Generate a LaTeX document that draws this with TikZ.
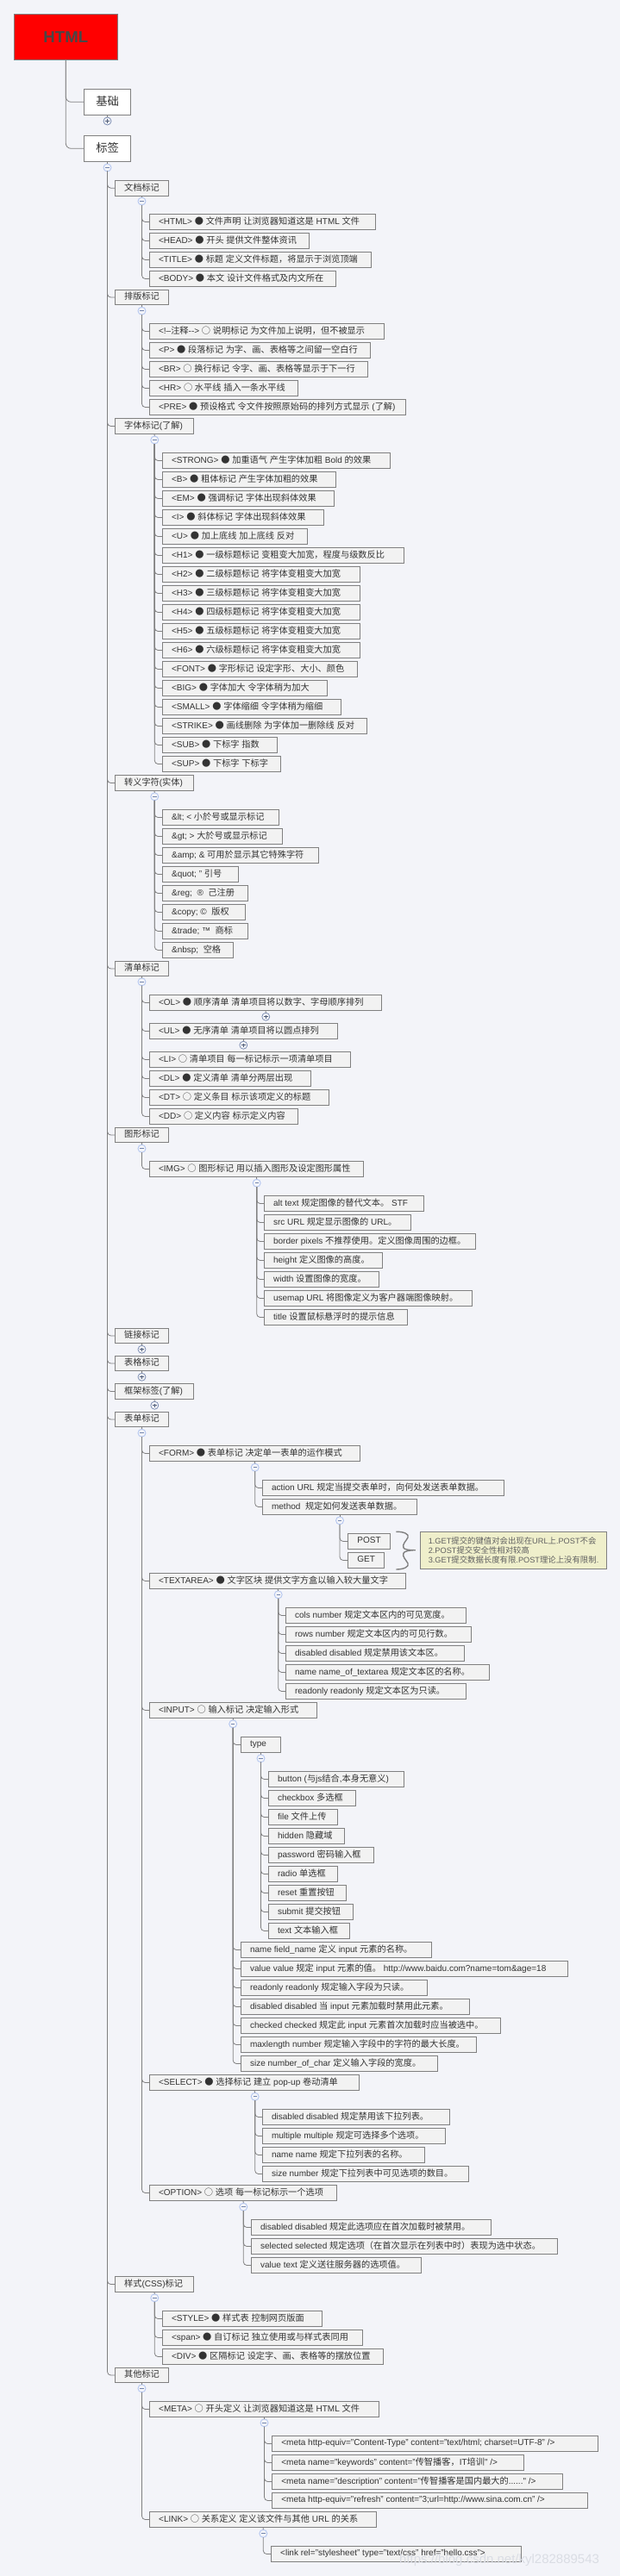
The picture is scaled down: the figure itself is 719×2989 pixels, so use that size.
\documentclass[tikz,border=0pt]{standalone}
\usepackage{fontspec}
\setmainfont{Liberation Sans}
\newfontfamily\latf{Liberation Sans}
\newfontfamily\cjkf[Scale=1.02]{Noto Sans CJK SC}
\newXeTeXintercharclass\CJKcl
\newcount\cc
\cc="3000 \loop \XeTeXcharclass\cc=\CJKcl \advance\cc by 1 \ifnum\cc<"A000 \repeat
\cc="FF00 \loop \XeTeXcharclass\cc=\CJKcl \advance\cc by 1 \ifnum\cc<"FFF0 \repeat
\XeTeXcharclass"25CF=\CJKcl
\XeTeXcharclass"25CB=\CJKcl
\XeTeXinterchartoks 0 \CJKcl={\cjkf}
\XeTeXinterchartoks \CJKcl 0={\latf}
\XeTeXinterchartoks 4095 \CJKcl={\cjkf}
\XeTeXinterchartoks \CJKcl 4095={\latf}
\XeTeXinterchartokenstate=1
\definecolor{bgc}{HTML}{F3F4F9}
\definecolor{edgec}{HTML}{808080}
\definecolor{itemc}{HTML}{F2F2F2}
\definecolor{textc}{HTML}{333333}
\definecolor{togm}{HTML}{B4C6F0}
\definecolor{togp}{HTML}{7486AD}
\definecolor{notec}{HTML}{EFEFCB}
\definecolor{wmc}{HTML}{DADDE4}
\tikzset{
  itembox/.style={draw=edgec,fill=itemc,line width=0.8pt,inner sep=0pt,outer sep=0pt,anchor=north west,
    minimum height=18.4pt,text=textc,font=\fontsize{10}{12}\selectfont},
  short/.style={minimum height=17.4pt},
  conn/.style={draw=edgec,line width=0.8pt,rounded corners=4pt},
  toggleM/.style={circle,draw=togm,fill=bgc,line width=0.9pt,minimum size=9pt,inner sep=0pt,outer sep=0pt,
    path picture={\draw[togp,line width=0.7pt] ([xshift=-2.2pt]path picture bounding box.center) -- ([xshift=2.2pt]path picture bounding box.center);}},
  toggleP/.style={circle,draw=togp,fill=bgc,line width=0.7pt,minimum size=9pt,inner sep=0pt,outer sep=0pt,
    path picture={\draw[togp!70!black,line width=0.7pt] ([xshift=-2.2pt]path picture bounding box.center) -- ([xshift=2.2pt]path picture bounding box.center)
      ([yshift=-2.2pt]path picture bounding box.center) -- ([yshift=2.2pt]path picture bounding box.center);}},
}
% item box: [style]{name}{x1}{y1}{x2}{text}
\newcommand\It[6][]{%
  \pgfmathsetmacro\itW{#5-#3}%
  \node[itembox,minimum width=\itW pt,#1] (#2) at (#3,-#4)
    {\hbox to \itW pt{\hskip10.8pt\rule[-3pt]{0pt}{9.8pt}#6\hss}};}
% toggle: {name}{parent}{x}{y}{style}
\newcommand\Tg[5]{%
  \node[#5] (#1) at (#3,-#4) {};
  \draw[conn] (#2.south) -- (#1.north);}
% connectors from a toggle to its children
\newcommand\Cn[2]{\foreach \chld in {#2} {\draw[conn] (#1.south) |- (\chld.west);}}
\begin{document}
\begin{tikzpicture}[x=1pt,y=1pt]
\useasboundingbox (0,0) rectangle (719,-2989);
\fill[bgc] (0,0) rectangle (719,-2989);
% root and first level
\node[draw=edgec,fill=red,line width=0.9pt,minimum width=120pt,minimum height=53.4pt,inner sep=0pt,outer sep=0pt,anchor=north west,text=black!72,font=\fontsize{18.6}{20}\selectfont\bfseries] (root) at (16.3,-16.3) {HTML};
\It[fill=white,minimum height=30pt,font=\fontsize{13}{15}\selectfont]{jc}{97.3}{103.3}{151.7}{\hskip3.2pt 基础}
\It[fill=white,minimum height=30pt,font=\fontsize{13}{15}\selectfont]{bq}{97.3}{157.3}{151.7}{\hskip3.2pt 标签}
\draw[conn,rounded corners=6pt] (root.south) |- (jc.west);
\draw[conn,rounded corners=6pt] (root.south) |- (bq.west);
\Tg{tjc}{jc}{124.5}{140.5}{toggleP}
\Tg{tbq}{bq}{124.5}{194.5}{toggleM}
% second level
\It[short]{wd}{133.3}{209.5}{195.7}{文档标记}
\It[short]{pb}{133.3}{336.3}{195.7}{排版标记}
\It{zt}{133.3}{485.3}{224.7}{字体标记(了解)}
\It{zy}{133.3}{899.3}{224.7}{转义字符(实体)}
\It[short]{qd}{133.3}{1115.3}{195.7}{清单标记}
\It[short]{tx}{133.3}{1308.3}{195.7}{图形标记}
\It[short]{lj}{133.3}{1541.3}{195.7}{链接标记}
\It[short]{bg}{133.3}{1573.3}{195.7}{表格标记}
\It{kj}{133.3}{1605.3}{224.7}{框架标签(了解)}
\It[short]{bd}{133.3}{1638.3}{195.7}{表单标记}
\It{ys}{133.3}{2641.3}{224.7}{样式(CSS)标记}
\It[short]{qt}{133.3}{2747.3}{195.7}{其他标记}
\Cn{tbq}{wd,pb,zt,zy,qd,tx,lj,bg,kj,bd,ys,qt}
% document
\Tg{twd}{wd}{164.5}{233.5}{toggleM}
\It{w1}{173.3}{248.3}{435.7}{<HTML> ● 文件声明 让浏览器知道这是 HTML 文件}
\It{w2}{173.3}{270.3}{358.3}{<HEAD> ● 开头 提供文件整体资讯}
\It{w3}{173.3}{292.3}{430.7}{<TITLE> ● 标题 定义文件标题，将显示于浏览顶端}
\It{w4}{173.3}{314.3}{389.7}{<BODY> ● 本文 设计文件格式及内文所在}
\Cn{twd}{w1,w2,w3,w4}
% layout
\Tg{tpb}{pb}{164.5}{360.7}{toggleM}
\It{p1}{173.3}{375.3}{445.7}{<!--注释--> ○ 说明标记 为文件加上说明，但不被显示}
\It{p2}{173.3}{397.3}{429.7}{<P> ● 段落标记 为字、画、表格等之间留一空白行}
\It{p3}{173.3}{419.3}{426.7}{<BR> ○ 换行标记 令字、画、表格等显示于下一行}
\It{p4}{173.3}{441.3}{345.7}{<HR> ○ 水平线 插入一条水平线}
\It{p5}{173.3}{463.3}{470.7}{<PRE> ● 预设格式 令文件按照原始码的排列方式显示 (了解)}
\Cn{tpb}{p1,p2,p3,p4,p5}
% font
\Tg{tzt}{zt}{179.3}{510.5}{toggleM}
\It{f1}{188.3}{525.3}{452.7}{<STRONG> ● 加重语气 产生字体加粗 Bold 的效果}
\It{f2}{188.3}{547.3}{389.7}{<B> ● 粗体标记 产生字体加粗的效果}
\It{f3}{188.3}{569.3}{387.7}{<EM> ● 强调标记 字体出现斜体效果}
\It{f4}{188.3}{591.3}{375.7}{<I> ● 斜体标记 字体出现斜体效果}
\It{f5}{188.3}{613.3}{356.7}{<U> ● 加上底线 加上底线 反对}
\It{f6}{188.3}{635.3}{468.7}{<H1> ● 一级标题标记 变粗变大加宽，程度与级数反比}
\It{f7}{188.3}{657.3}{417.7}{<H2> ● 二级标题标记 将字体变粗变大加宽}
\It{f8}{188.3}{679.3}{417.7}{<H3> ● 三级标题标记 将字体变粗变大加宽}
\It{f9}{188.3}{701.3}{417.7}{<H4> ● 四级标题标记 将字体变粗变大加宽}
\It{f10}{188.3}{723.3}{417.7}{<H5> ● 五级标题标记 将字体变粗变大加宽}
\It{f11}{188.3}{745.3}{417.7}{<H6> ● 六级标题标记 将字体变粗变大加宽}
\It{f12}{188.3}{767.3}{414.7}{<FONT> ● 字形标记 设定字形、大小、颜色}
\It{f13}{188.3}{789.3}{379.7}{<BIG> ● 字体加大 令字体稍为加大}
\It{f14}{188.3}{811.3}{395.7}{<SMALL> ● 字体缩细 令字体稍为缩细}
\It{f15}{188.3}{833.3}{425.7}{<STRIKE> ● 画线删除 为字体加一删除线 反对}
\It{f16}{188.3}{855.3}{321.7}{<SUB> ● 下标字 指数}
\It{f17}{188.3}{877.3}{325.7}{<SUP> ● 下标字 下标字}
\Cn{tzt}{f1,f2,f3,f4,f5,f6,f7,f8,f9,f10,f11,f12,f13,f14,f15,f16,f17}
% entities
\Tg{tzy}{zy}{179.3}{924.3}{toggleM}
\It{e1}{188.3}{939.3}{323.7}{\&lt; < 小於号或显示标记}
\It{e2}{188.3}{961.3}{327.7}{\&gt; > 大於号或显示标记}
\It{e3}{188.3}{983.3}{369.7}{\&amp; \& 可用於显示其它特殊字符}
\It{e4}{188.3}{1005.3}{276.7}{\&quot; " 引号}
\It{e5}{188.3}{1027.3}{287.7}{\&reg;\ \ ® \ 己注册}
\It{e6}{188.3}{1049.3}{284.7}{\&copy; © \ 版权}
\It{e7}{188.3}{1071.3}{287.7}{\&trade; ™ \ 商标}
\It{e8}{188.3}{1093.3}{270.7}{\&nbsp;\ \ 空格}
\Cn{tzy}{e1,e2,e3,e4,e5,e6,e7,e8}
% lists
\Tg{tqd}{qd}{164.5}{1139.3}{toggleM}
\It{l1}{173.3}{1154.3}{442.7}{<OL> ● 顺序清单 清单项目将以数字、字母顺序排列}
\Tg{tl1}{l1}{308.3}{1179.7}{toggleP}
\It{l2}{173.3}{1187.3}{391.7}{<UL> ● 无序清单 清单项目将以圆点排列}
\Tg{tl2}{l2}{282.3}{1212.7}{toggleP}
\It{l3}{173.3}{1220.3}{406.7}{<LI> ○ 清单项目 每一标记标示一项清单项目}
\It{l4}{173.3}{1242.3}{360.7}{<DL> ● 定义清单 清单分两层出现}
\It{l5}{173.3}{1264.3}{381.7}{<DT> ○ 定义条目 标示该项定义的标题}
\It{l6}{173.3}{1286.3}{345.7}{<DD> ○ 定义内容 标示定义内容}
\Cn{tqd}{l1,l2,l3,l4,l5,l6}
% image
\Tg{ttx}{tx}{164.5}{1332.7}{toggleM}
\It{im}{173.3}{1347.3}{421.7}{<IMG> ○ 图形标记 用以插入图形及设定图形属性}
\Cn{ttx}{im}
\Tg{tim}{im}{297.7}{1372.7}{toggleM}
\It{i1}{306.3}{1387.3}{491.7}{alt text 规定图像的替代文本。 STF}
\It{i2}{306.3}{1409.3}{476.7}{src URL 规定显示图像的 URL。}
\It{i3}{306.3}{1431.3}{551}{border pixels 不推荐使用。定义图像周围的边框。}
\It{i4}{306.3}{1453.3}{443.7}{height 定义图像的高度。}
\It{i5}{306.3}{1475.3}{439.7}{width 设置图像的宽度。}
\It{i6}{306.3}{1497.3}{547.7}{usemap URL 将图像定义为客户器端图像映射。}
\It{i7}{306.3}{1519.3}{472.7}{title 设置鼠标悬浮时的提示信息}
\Cn{tim}{i1,i2,i3,i4,i5,i6,i7}
% collapsed
\Tg{tlj}{lj}{164.5}{1565.7}{toggleP}
\Tg{tbg}{bg}{164.5}{1597.7}{toggleP}
\Tg{tkj}{kj}{179.3}{1630.7}{toggleP}
% forms
\Tg{tbd}{bd}{164.5}{1662.7}{toggleM}
\It{fm}{173.3}{1677.3}{417.7}{<FORM> ● 表单标记 决定单一表单的运作模式}
\Tg{tfm}{fm}{295.7}{1702.7}{toggleM}
\It{fa}{304.3}{1717.3}{584}{action URL 规定当提交表单时，向何处发送表单数据。}
\It{fb}{304.3}{1739.3}{483.7}{method \ 规定如何发送表单数据。}
\Cn{tfm}{fa,fb}
\Tg{tfb}{fb}{394}{1764.3}{toggleM}
\It{po}{403.6}{1779.3}{452.5}{POST}
\It{ge}{403.6}{1801.3}{445.4}{GET}
\Cn{tfb}{po,ge}
\draw[edgec,line width=1.4pt] (459.3,-1777.3) .. controls (468,-1777) and (475,-1780) .. (473,-1784)
  .. controls (471,-1788) and (466,-1792) .. (468,-1796) .. controls (469,-1798) and (474,-1798.7) .. (481.8,-1798.7)
  .. controls (474,-1798.7) and (469,-1800) .. (468,-1802) .. controls (466,-1806) and (471,-1810) .. (473,-1814)
  .. controls (475,-1818) and (468,-1821) .. (459.3,-1821);
\node[draw=edgec,fill=notec,line width=0.8pt,minimum width=215.5pt,minimum height=43.4pt,inner xsep=9.5pt,inner ysep=0pt,outer sep=0pt,anchor=north west,text width=197pt,align=left,text=black!62,font=\fontsize{9.2}{11}\selectfont] (note) at (487.3,-1777.3)
  {1.GET提交的键值对会出现在URL上.POST不会\\2.POST提交安全性相对较高\\3.GET提交数据长度有限.POST理论上没有限制.};
\It{ta}{173.3}{1825.3}{470.7}{<TEXTAREA> ● 文字区块 提供文字方盒以输入较大量文字}
\Tg{tta}{ta}{322.7}{1850.3}{toggleM}
\It{a1}{331.3}{1865.3}{540.6}{cols number 规定文本区内的可见宽度。}
\It{a2}{331.3}{1887.3}{546.5}{rows number 规定文本区内的可见行数。}
\It{a3}{331.3}{1909.3}{538.6}{disabled disabled 规定禁用该文本区。}
\It{a4}{331.3}{1931.3}{567.4}{name name\_of\_textarea 规定文本区的名称。}
\It{a5}{331.3}{1953.3}{540.6}{readonly readonly 规定文本区为只读。}
\Cn{tta}{a1,a2,a3,a4,a5}
\It{in}{173.3}{1975.3}{367.7}{<INPUT> ○ 输入标记 决定输入形式}
\Tg{tin}{in}{270.2}{2000.3}{toggleM}
\It{ty}{279.3}{2015.3}{325.4}{type}
\Tg{tty}{ty}{302.5}{2040.3}{toggleM}
\It{y1}{311.3}{2055.3}{468.7}{button (与js结合,本身无意义)}
\It{y2}{311.3}{2077.3}{412.7}{checkbox 多选框}
\It{y3}{311.3}{2099.3}{391.7}{file 文件上传}
\It{y4}{311.3}{2121.3}{399.7}{hidden 隐藏域}
\It{y5}{311.3}{2143.3}{433.7}{password 密码输入框}
\It{y6}{311.3}{2165.3}{391.7}{radio 单选框}
\It{y7}{311.3}{2187.3}{401.7}{reset 重置按钮}
\It{y8}{311.3}{2209.3}{409.7}{submit 提交按钮}
\It{y9}{311.3}{2231.3}{405.7}{text 文本输入框}
\Cn{tty}{y1,y2,y3,y4,y5,y6,y7,y8,y9}
\It{n1}{279.3}{2253.3}{500.7}{name field\_name 定义 input 元素的名称。}
\It{n2}{279.3}{2275.3}{658}{value value 规定 input 元素的值。 http://www.baidu.com?name=tom\&age=18}
\It{n3}{279.3}{2297.3}{495.7}{readonly readonly 规定输入字段为只读。}
\It{n4}{279.3}{2319.3}{544.7}{disabled disabled 当 input 元素加载时禁用此元素。}
\It{n5}{279.3}{2341.3}{580}{checked checked 规定此 input 元素首次加载时应当被选中。}
\It{n6}{279.3}{2363.3}{552}{maxlength number 规定输入字段中的字符的最大长度。}
\It{n7}{279.3}{2385.3}{507.7}{size number\_of\_char 定义输入字段的宽度。}
\Cn{tin}{ty,n1,n2,n3,n4,n5,n6,n7}
\It{se}{173.3}{2407.3}{416.7}{<SELECT> ● 选择标记 建立 pop-up 卷动清单}
\Tg{tse}{se}{295.7}{2432.7}{toggleM}
\It{s1}{304.3}{2447.3}{521.7}{disabled disabled 规定禁用该下拉列表。}
\It{s2}{304.3}{2469.3}{516.7}{multiple multiple 规定可选择多个选项。}
\It{s3}{304.3}{2491.3}{492.7}{name name 规定下拉列表的名称。}
\It{s4}{304.3}{2513.3}{543.7}{size number 规定下拉列表中可见选项的数目。}
\Cn{tse}{s1,s2,s3,s4}
\It{op}{173.3}{2535.3}{390.7}{<OPTION> ○ 选项 每一标记标示一个选项}
\Tg{top}{op}{282.3}{2560.7}{toggleM}
\It{o1}{291.3}{2575.3}{569.7}{disabled disabled 规定此选项应在首次加载时被禁用。}
\It{o2}{291.3}{2597.3}{646}{selected selected 规定选项（在首次显示在列表中时）表现为选中状态。}
\It{o3}{291.3}{2619.3}{488.7}{value text 定义送往服务器的选项值。}
\Cn{top}{o1,o2,o3}
\Cn{tbd}{fm,ta,in,se,op}
% style
\Tg{tys}{ys}{179.3}{2666.3}{toggleM}
\It{c1}{188.3}{2681.3}{373.7}{<STYLE> ● 样式表 控制网页版面}
\It{c2}{188.3}{2703.3}{420.7}{<span> ● 自订标记 独立使用或与样式表同用}
\It{c3}{188.3}{2725.3}{444.3}{<DIV> ● 区隔标记 设定字、画、表格等的摆放位置}
\Cn{tys}{c1,c2,c3}
% others
\Tg{tqt}{qt}{164.5}{2771.3}{toggleM}
\It{me}{173.4}{2786.3}{439.5}{<META> ○ 开头定义 让浏览器知道这是 HTML 文件}
\Tg{tme}{me}{306.5}{2811.3}{toggleM}
\It{m1}{315.6}{2826.3}{693.8}{<meta http-equiv="Content-Type" content="text/html; charset=UTF-8" />}
\It{m2}{315.6}{2848.3}{607.7}{<meta name="keywords" content="传智播客，IT培训" />}
\It{m3}{315.6}{2870.3}{652.7}{<meta name="description" content="传智播客是国内最大的......" />}
\It{m4}{315.6}{2892.3}{681.5}{<meta http-equiv="refresh" content="3;url=http://www.sina.com.cn" />}
\Cn{tme}{m1,m2,m3,m4}
\It{li}{173.4}{2914.3}{436.8}{<LINK> ○ 关系定义 定义该文件与其他 URL 的关系}
\Tg{tli}{li}{305.3}{2939.7}{toggleM}
\It{k1}{314.4}{2954.3}{604.5}{<link rel="stylesheet" type="text/css" href="hello.css">}
\Cn{tli}{k1}
\Cn{tqt}{me,li}
% watermark
\node[anchor=west,inner sep=0pt,text=wmc,font=\fontsize{15}{17}\selectfont] (wm) at (463,-2970.7) {https://blog.csdn.net/kyl282889543};
\end{tikzpicture}
\end{document}
